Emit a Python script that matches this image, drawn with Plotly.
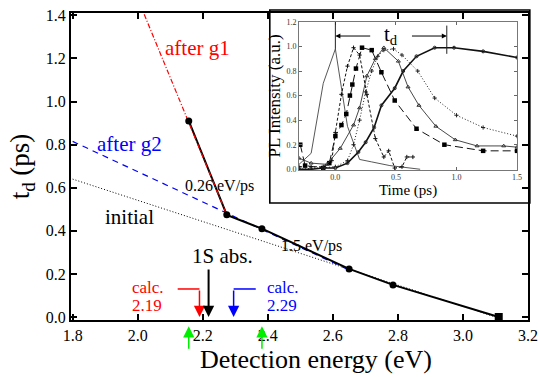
import plotly.graph_objects as go

# ---------------- main panel data ----------------
meas_E = [2.157, 2.274, 2.382, 2.65, 2.785]
meas_td = [0.91, 0.474, 0.41, 0.223, 0.149]
end_E = [3.11]
end_td = [0.0]

g1_E = [2.02, 2.274]
g1_td = [1.405, 0.474]
g2_E = [1.80, 2.65]
g2_td = [0.815, 0.218]
init_E = [1.80, 3.10]
init_td = [0.64, 0.0]

calc_red_E = 2.19
calc_blue_E = 2.295
abs1S_E = 2.218
green_E = [2.157, 2.382]

x_ticks = [1.8, 2.0, 2.2, 2.4, 2.6, 2.8, 3.0, 3.2]
y_ticks = [0.0, 0.2, 0.4, 0.6, 0.8, 1.0, 1.2, 1.4]

# ---------------- inset data ----------------
A_t = [-0.3, -0.2, -0.1, 0.0, 0.1, 0.2, 0.3, 0.45, 0.7]
A_y = [0.04, 0.13, 0.7, 0.98, 0.35, 0.08, 0.06, 0.03, 0.0]

B_t = [-0.3, -0.2, -0.1, -0.03, 0.0, 0.05, 0.1, 0.15, 0.2, 0.26, 0.33, 0.4, 0.44, 0.49, 0.55, 0.59, 0.64]
B_y = [0.02, 0.02, 0.02, 0.07, 0.3, 0.61, 0.84, 0.99, 0.93, 0.61, 0.25, 0.1, 0.15, 0.01, 0.02, 0.1, 0.1]

C_t = [-0.29, -0.25, -0.1, -0.05, 0.0, 0.05, 0.09, 0.12, 0.14, 0.17, 0.22, 0.3, 0.38, 0.49, 0.67, 0.9, 1.22, 1.5]
C_y = [0.2, 0.03, 0.01, 0.05, 0.27, 0.36, 0.45, 0.6, 0.69, 0.82, 0.99, 0.97, 0.79, 0.56, 0.33, 0.2, 0.15, 0.15]

D_t = [-0.3, -0.2, -0.07, 0.04, 0.15, 0.2, 0.26, 0.33, 0.4, 0.52, 0.6, 0.69, 0.83, 0.99, 1.17, 1.39, 1.5]
D_y = [0.09, 0.05, 0.04, 0.17, 0.36, 0.5, 0.76, 0.9, 0.99, 0.88, 0.67, 0.52, 0.35, 0.24, 0.19, 0.19, 0.18]

E_t = [-0.3, -0.1, 0.0, 0.1, 0.15, 0.2, 0.25, 0.3, 0.35, 0.4, 0.48, 0.55, 0.68, 0.82, 1.0, 1.22, 1.5]
E_y = [0.0, 0.01, 0.02, 0.07, 0.2, 0.4, 0.63, 0.8, 0.92, 0.97, 0.98, 0.93, 0.8, 0.58, 0.44, 0.34, 0.27]

F_t = [-0.3, -0.2, -0.1, 0.0, 0.1, 0.19, 0.25, 0.32, 0.38, 0.49, 0.56, 0.67, 0.82, 0.98, 1.22, 1.5]
F_y = [0.0, 0.0, 0.01, 0.01, 0.05, 0.14, 0.22, 0.34, 0.52, 0.66, 0.8, 0.92, 0.99, 0.99, 0.96, 0.91]

td_start = 0.0
td_end = 0.92
td_arrow_y = 1.085

inset_x_ticks = [0.0, 0.5, 1.0, 1.5]
inset_y_ticks = [0.0, 0.2, 0.4, 0.6, 0.8, 1.0, 1.2]

FONT = "'Liberation Serif', 'Times New Roman', Times, 'DejaVu Serif', serif"

fig = go.Figure()

# main lines
fig.add_trace(go.Scatter(x=init_E, y=init_td, mode="lines",
                         line=dict(color="black", width=1, dash="1px,2px"), showlegend=False))
fig.add_trace(go.Scatter(x=g2_E, y=g2_td, mode="lines",
                         line=dict(color="blue", width=1.2, dash="6px,5px"), showlegend=False))
fig.add_trace(go.Scatter(x=meas_E + end_E, y=meas_td + end_td, mode="lines",
                         line=dict(color="black", width=2), showlegend=False))
fig.add_trace(go.Scatter(x=g1_E, y=g1_td, mode="lines",
                         line=dict(color="red", width=1.2, dash="5px,2px,1px,2px"), showlegend=False))
fig.add_trace(go.Scatter(x=meas_E, y=meas_td, mode="markers",
                         marker=dict(color="black", size=7, symbol="circle"), showlegend=False))
fig.add_trace(go.Scatter(x=end_E, y=end_td, mode="markers",
                         marker=dict(color="black", size=8, symbol="square"), showlegend=False))

# elbow arrow horizontal parts
fig.add_trace(go.Scatter(x=[calc_red_E - 0.067, calc_red_E], y=[0.13, 0.13], mode="lines",
                         line=dict(color="red", width=1.5), showlegend=False))
fig.add_trace(go.Scatter(x=[calc_blue_E + 0.068, calc_blue_E], y=[0.13, 0.13], mode="lines",
                         line=dict(color="blue", width=1.5), showlegend=False))

# inset curves
ins = dict(xaxis="x2", yaxis="y2", showlegend=False)
fig.add_trace(go.Scatter(x=A_t, y=A_y, mode="lines", line=dict(color="#444", width=0.9), **ins))
fig.add_trace(go.Scatter(x=B_t, y=B_y, mode="lines+markers", line=dict(color="#111", width=1, dash="3px,2px"),
                         marker=dict(symbol="cross-thin", size=3, line=dict(color="#111", width=1)), **ins))
fig.add_trace(go.Scatter(x=C_t, y=C_y, mode="lines+markers", line=dict(color="#111", width=1, dash="8px,4px"),
                         marker=dict(symbol="square", size=4.5, color="black"), **ins))
fig.add_trace(go.Scatter(x=D_t, y=D_y, mode="lines+markers", line=dict(color="#333", width=0.9),
                         marker=dict(symbol="triangle-up-open", size=3.5, color="#333"), **ins))
fig.add_trace(go.Scatter(x=E_t, y=E_y, mode="lines+markers", line=dict(color="#222", width=1, dash="1px,2px"),
                         marker=dict(symbol="cross-thin", size=3, line=dict(color="#222", width=1)), **ins))
fig.add_trace(go.Scatter(x=F_t, y=F_y, mode="lines+markers", line=dict(color="#111", width=1.6),
                         marker=dict(symbol="circle-open", size=3, color="#222"), **ins))

ann = []
def txt(x, y, s, color="black", size=17, xanchor="center", xref="x", yref="y"):
    ann.append(dict(x=x, y=y, xref=xref, yref=yref, text=s, showarrow=False, xanchor=xanchor,
                    yanchor="middle", font=dict(family=FONT, size=size, color=color)))

txt(2.185, 1.249, "after g1", "red", 21)
txt(1.975, 0.803, "after g2", "blue", 21)
txt(2.252, 0.608, "0.26 eV/ps", "black", 16)
txt(2.535, 0.33, "1.5 eV/ps", "black", 16)
txt(1.975, 0.464, "initial", "black", 21)
txt(2.262, 0.283, "1S abs.", "black", 21)
txt(1.975, 0.139, "calc.", "red", 17, "left")
txt(1.975, 0.053, "2.19", "red", 17, "left")
txt(2.39, 0.139, "calc.", "blue", 17, "left")
txt(2.39, 0.053, "2.29", "blue", 17, "left")
# x-axis title (placed slightly right of centre, as in the original)
txt(0.536, -0.128, "Detection energy (eV)", "black", 26, xref="paper", yref="paper")

def arrow(x, y, ay, color, width):
    ann.append(dict(x=x, y=y, ax=x, ay=ay, xref="x", yref="y", axref="x", ayref="y", text="",
                    showarrow=True, arrowhead=2, arrowsize=1.5 * 1.5 / width, arrowwidth=width,
                    arrowcolor=color, standoff=0))

arrow(calc_red_E, 0.0, 0.13, "red", 1.5)
arrow(calc_blue_E, 0.0, 0.13, "blue", 1.5)
arrow(abs1S_E, 0.0, 0.227, "black", 2)
# green arrows sit below the axis -> place them in paper y with pixel tail offset
for ge in green_E:
    ann.append(dict(x=ge, y=-0.02, xref="x", yref="paper", ax=0, ay=24, text="",
                    showarrow=True, arrowhead=2, arrowsize=1.5, arrowwidth=1.5,
                    arrowcolor="#00ee00", standoff=0))

# inset t_d arrows
ann.append(dict(x=td_start, y=td_arrow_y, ax=0.3, ay=td_arrow_y, xref="x2", yref="y2", axref="x2", ayref="y2",
                text="", showarrow=True, arrowhead=2, arrowsize=1, arrowwidth=1, arrowcolor="black", standoff=0))
ann.append(dict(x=td_end, y=td_arrow_y, ax=0.62, ay=td_arrow_y, xref="x2", yref="y2", axref="x2", ayref="y2",
                text="", showarrow=True, arrowhead=2, arrowsize=1, arrowwidth=1, arrowcolor="black", standoff=0))
txt(0.46, td_arrow_y + 0.01, "t<sub>d</sub>", "black", 21, xref="x2", yref="y2")

shapes = [
    dict(type="rect", xref="paper", yref="paper", x0=0.435, x1=1.004, y0=0.381, y1=1.01,
         line=dict(color="black", width=1.6), fillcolor="white", layer="below"),
    dict(type="line", xref="x2", yref="y2", x0=td_start, x1=td_start, y0=0.98, y1=1.2,
         line=dict(color="#222", width=1)),
    dict(type="line", xref="x2", yref="y2", x0=td_end, x1=td_end, y0=0.94, y1=1.17,
         line=dict(color="#222", width=1)),
]

fig.update_layout(
    width=540, height=377,
    margin=dict(l=71, r=12, t=13, b=57),
    paper_bgcolor="white", plot_bgcolor="white",
    font=dict(family=FONT, color="black"),
    annotations=ann, shapes=shapes,
    xaxis=dict(range=[1.795, 3.2], tickvals=x_ticks, ticktext=[f"{v:.1f}" for v in x_ticks],
               ticks="inside", ticklen=6, tickwidth=1.5, tickcolor="black", automargin=False,
               showline=True, linecolor="black", linewidth=2, mirror="ticks",
               showgrid=False, zeroline=False, tickfont=dict(size=16, family=FONT)),
    yaxis=dict(range=[-0.014, 1.411], tickvals=y_ticks, ticktext=[f"{v:.1f}" for v in y_ticks],
               ticks="inside", ticklen=6, tickwidth=1.5, tickcolor="black", automargin=False,
               showline=True, linecolor="black", linewidth=2, mirror="ticks",
               showgrid=False, zeroline=False, tickfont=dict(size=16, family=FONT),
               title=dict(text="t<sub>d</sub> (ps)", font=dict(size=27, family=FONT), standoff=8)),
    xaxis2=dict(domain=[0.499, 0.976], anchor="y2", range=[-0.3, 1.5], tickvals=inset_x_ticks,
                ticktext=[f"{v:.1f}" for v in inset_x_ticks], automargin=False,
                ticks="inside", ticklen=3, tickwidth=1, tickcolor="#666",
                showline=True, linecolor="#777", linewidth=1, mirror="ticks",
                showgrid=False, zeroline=False, tickfont=dict(size=8, family=FONT, color="#333"),
                title=dict(text="Time (ps)", font=dict(size=15, family=FONT), standoff=0)),
    yaxis2=dict(domain=[0.489, 0.971], anchor="x2", range=[-0.005, 1.2], tickvals=inset_y_ticks,
                ticktext=[f"{v:.1f}" for v in inset_y_ticks], automargin=False,
                ticks="inside", ticklen=3, tickwidth=1, tickcolor="#666",
                showline=True, linecolor="#777", linewidth=1, mirror="ticks",
                showgrid=False, zeroline=False, tickfont=dict(size=8, family=FONT, color="#333"),
                title=dict(text="PL Intensity (a.u.)", font=dict(size=17, family=FONT), standoff=1)),
)

fig.write_html("out.html", config={"displayModeBar": False},
               post_script="document.body.style.margin='0';document.body.style.padding='0';")
